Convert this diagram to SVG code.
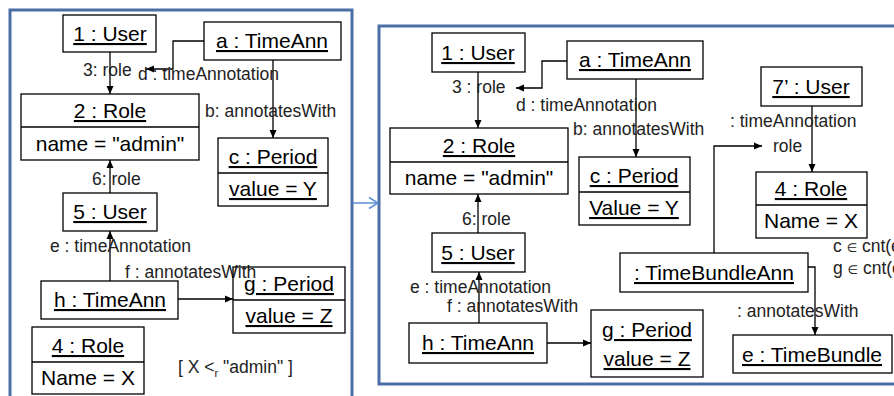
<svg xmlns="http://www.w3.org/2000/svg" width="894" height="396" viewBox="0 0 894 396">
<style>
.panel{fill:none;stroke:#4a6ea5;stroke-width:3}
.box{fill:none;stroke:#000;stroke-width:1.3}
.div{stroke:#000;stroke-width:1.3}
.t{font-family:"Liberation Sans",Arial,sans-serif;font-size:21px;fill:#000;text-anchor:middle}
.u{text-decoration:underline}
.l{font-family:"Liberation Sans",Arial,sans-serif;font-size:17.5px;fill:#222}
.c{fill:none;stroke:#000;stroke-width:1.3}
.el{font-family:"DejaVu Sans",sans-serif;font-size:12px}
</style>
<defs>
<marker id="ah" markerWidth="10" markerHeight="10" refX="9" refY="5" orient="auto" markerUnits="userSpaceOnUse">
<path d="M1,1.5 L9,5 L1,8.5 Z" fill="#000"/>
</marker>
<marker id="oh" markerWidth="14" markerHeight="14" refX="12" refY="7" orient="auto" markerUnits="userSpaceOnUse">
<path d="M3,1.5 L12,7 L3,12.5" fill="none" stroke="#5b8fd6" stroke-width="1.5"/>
</marker>
</defs>
<rect width="894" height="396" fill="#fff"/>
<g id="panels">
<rect class="panel" x="10" y="10" width="342" height="400"/>
<rect class="panel" x="379" y="26" width="530" height="358"/>
<line x1="353" y1="203" x2="378" y2="203" stroke="#5b8fd6" stroke-width="1.5" marker-end="url(#oh)"/>
</g>
<g id="connectors">
<line class="c" x1="110" y1="52" x2="110" y2="94" marker-end="url(#ah)"/>
<polyline class="c" points="204,41 173,41 173,69 146,69" marker-end="url(#ah)"/>
<line class="c" x1="273" y1="60" x2="273" y2="138" marker-end="url(#ah)"/>
<line class="c" x1="110" y1="193" x2="110" y2="160" marker-end="url(#ah)"/>
<line class="c" x1="110" y1="281" x2="110" y2="231" marker-end="url(#ah)"/>
<line class="c" x1="178" y1="299" x2="233" y2="299" marker-end="url(#ah)"/>
<line class="c" x1="478" y1="72" x2="478" y2="128" marker-end="url(#ah)"/>
<polyline class="c" points="567,61 542,61 542,88 516,88" marker-end="url(#ah)"/>
<line class="c" x1="636" y1="79" x2="636" y2="157" marker-end="url(#ah)"/>
<line class="c" x1="478" y1="233" x2="478" y2="194" marker-end="url(#ah)"/>
<line class="c" x1="479" y1="323" x2="479" y2="272" marker-end="url(#ah)"/>
<line class="c" x1="547" y1="343" x2="591" y2="343" marker-end="url(#ah)"/>
<line class="c" x1="812" y1="106" x2="812" y2="172" marker-end="url(#ah)"/>
<polyline class="c" points="714,253 714,146 762,146" marker-end="url(#ah)"/>
<polyline class="c" points="808,267 815,267 815,335" marker-end="url(#ah)"/>
<text class="l" x="83" y="76">3: role</text>
<text class="l" x="138" y="80">d : timeAnnotation</text>
<text class="l" x="205" y="117">b: annotatesWith</text>
<text class="l" x="92" y="185">6: role</text>
<text class="l" x="50" y="252">e : timeAnnotation</text>
<text class="l" x="125" y="278">f : annotatesWith</text>
<text class="l" x="452" y="93">3 : role</text>
<text class="l" x="516" y="111">d : timeAnnotation</text>
<text class="l" x="573" y="135">b: annotatesWith</text>
<text class="l" x="462" y="225">6: role</text>
<text class="l" x="410" y="293">e : timeAnnotation</text>
<text class="l" x="447" y="312">f : annotatesWith</text>
<text class="l" x="730" y="127">: timeAnnotation</text>
<text class="l" x="773" y="152">role</text>
<text class="l" x="737" y="317">: annotatesWith</text>
<text class="l" x="833" y="252" font-size="16">c <tspan class="el">∈</tspan> cnt(e)</text>
<text class="l" x="833" y="274" font-size="16">g <tspan class="el">∈</tspan> cnt(e)</text>
</g>
<g id="L1User"><rect class="box" x="63" y="15" width="93" height="37"/><text class="t u" x="110" y="41">1 : User</text></g>
<g id="LaTimeAnn"><rect class="box" x="204" y="22" width="137" height="38"/><text class="t u" x="272" y="48">a : TimeAnn</text></g>
<g id="L2Role"><rect class="box" x="21" y="94" width="178" height="66"/><line class="div" x1="21" y1="127" x2="199" y2="127"/><text class="t u" x="110" y="118">2 : Role</text><text class="t" x="110" y="151">name = "admin"</text></g>
<g id="LcPeriod"><rect class="box" x="218" y="138" width="110" height="68"/><line class="div" x1="218" y1="173" x2="328" y2="173"/><text class="t u" x="273" y="164">c : Period</text><text class="t u" x="273" y="196">value = Y</text></g>
<g id="L5User"><rect class="box" x="63" y="193" width="94" height="38"/><text class="t u" x="110" y="219">5 : User</text></g>
<g id="LhTimeAnn"><rect class="box" x="41" y="281" width="137" height="38"/><text class="t u" x="110" y="307">h : TimeAnn</text></g>
<g id="LgPeriod"><rect class="box" x="233" y="267" width="112" height="66"/><line class="div" x1="233" y1="300" x2="345" y2="300"/><text class="t u" x="289" y="291">g : Period</text><text class="t u" x="289" y="323">value = Z</text></g>
<g id="L4Role"><rect class="box" x="32" y="327" width="112" height="67"/><line class="div" x1="32" y1="362" x2="144" y2="362"/><text class="t u" x="88" y="353">4 : Role</text><text class="t" x="88" y="385">Name = X</text></g>
<g id="Lconstraint"><text class="l" x="178" y="373" font-size="16.5">[ X &lt;<tspan font-size="11" dy="4">r</tspan><tspan dy="-4"> "admin" ]</tspan></text></g>
<g id="R1User"><rect class="box" x="432" y="33" width="93" height="39"/><text class="t u" x="478" y="60">1 : User</text></g>
<g id="RaTimeAnn"><rect class="box" x="567" y="41" width="136" height="38"/><text class="t u" x="635" y="67">a : TimeAnn</text></g>
<g id="R2Role"><rect class="box" x="390" y="128" width="178" height="66"/><line class="div" x1="390" y1="162" x2="568" y2="162"/><text class="t u" x="479" y="153">2 : Role</text><text class="t" x="479" y="185">name = "admin"</text></g>
<g id="RcPeriod"><rect class="box" x="579" y="157" width="111" height="68"/><line class="div" x1="579" y1="192" x2="690" y2="192"/><text class="t u" x="634" y="183">c : Period</text><text class="t u" x="634" y="215">Value = Y</text></g>
<g id="R5User"><rect class="box" x="432" y="233" width="93" height="39"/><text class="t u" x="478" y="260">5 : User</text></g>
<g id="RhTimeAnn"><rect class="box" x="409" y="323" width="138" height="40"/><text class="t u" x="478" y="350">h : TimeAnn</text></g>
<g id="RgPeriod"><rect class="box" x="591" y="310" width="112" height="67"/><text class="t u" x="647" y="337">g : Period</text><text class="t u" x="647" y="366">value = Z</text></g>
<g id="R7User"><rect class="box" x="761" y="67" width="101" height="39"/><text class="t u" x="811" y="94">7’ : User</text></g>
<g id="R4Role"><rect class="box" x="756" y="172" width="111" height="66"/><line class="div" x1="756" y1="205" x2="867" y2="205"/><text class="t u" x="811" y="196">4 : Role</text><text class="t" x="811" y="228">Name = X</text></g>
<g id="RTimeBundleAnn"><rect class="box" x="620" y="253" width="188" height="39"/><text class="t u" x="714" y="280">: TimeBundleAnn</text></g>
<g id="ReTimeBundle"><rect class="box" x="733" y="335" width="159" height="38"/><text class="t u" x="812" y="362">e : TimeBundle</text></g>
</svg>
